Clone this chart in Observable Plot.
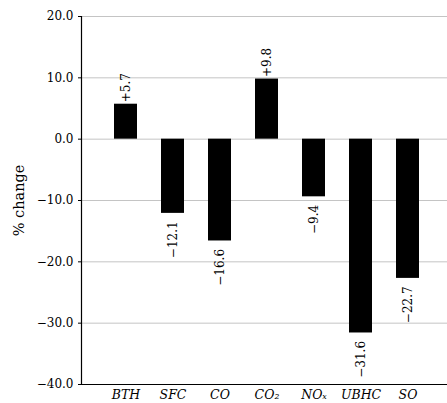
<!DOCTYPE html>
<html>
<head>
<meta charset="utf-8">
<script src="https://cdn.jsdelivr.net/npm/d3@7"></script>
<script src="https://cdn.jsdelivr.net/npm/@observablehq/plot@0.6"></script>
<style>
  html, body { margin: 0; padding: 0; background: #fff; }
  svg { display: block; }
</style>
</head>
<body>
<div id="chart"></div>
<script>
const categories = ["BTH", "SFC", "CO", "CO₂", "NOₓ", "UBHC", "SO"];
const values = [5.7, -12.1, -16.6, 9.8, -9.4, -31.6, -22.7];
const yTicks = [20, 10, 0, -10, -20, -30, -40];
const yLabel = "% change";

const data = categories.map((c, i) => ({cat: c, value: values[i]}));
const fmtTick = d => (d < 0 ? "\u2212" : "") + Math.abs(d).toFixed(1);
const fmtVal = d => (d < 0 ? "\u2212" : "+") + Math.abs(d).toFixed(1);
const font = "DejaVu Serif";

const chart = Plot.plot({
  width: 447,
  height: 403,
  marginLeft: 81,
  marginRight: 0,
  marginTop: 16,
  marginBottom: 19,
  style: {fontFamily: font, fontSize: "12px", background: "#fff", color: "#000"},
  x: {domain: categories, range: [81, 452], paddingInner: 0.517, paddingOuter: 0.657},
  y: {domain: [-40, 20]},
  marks: [
    Plot.ruleY(yTicks, {stroke: "#c4c4c4", strokeWidth: 1}),
    Plot.barY(data, {x: "cat", y: "value", fill: "#000"}),
    Plot.text(data.filter(d => d.value >= 0), {
      x: "cat", y: "value", text: d => fmtVal(d.value),
      rotate: -90, textAnchor: "start", dy: -2, fontSize: 12, fill: "#000"
    }),
    Plot.text(data.filter(d => d.value < 0), {
      x: "cat", y: "value", text: d => fmtVal(d.value),
      rotate: -90, textAnchor: "end", dy: 8, fontSize: 12, fill: "#000"
    }),
    Plot.axisY({
      ticks: yTicks, tickFormat: fmtTick, tickSize: 3, tickPadding: 5,
      fontSize: 12, label: null
    }),
    Plot.axisY({
      ticks: [], tickSize: 0, fontSize: 14.5, label: yLabel,
      labelAnchor: "center", labelArrow: "none", labelOffset: 68
    }),
    Plot.axisX({tickSize: 0, tickPadding: 6, fontStyle: "italic", fontSize: 12.5, label: null}),
    Plot.frame({anchor: "left", stroke: "#000", strokeWidth: 1.2}),
    Plot.frame({anchor: "bottom", stroke: "#000", strokeWidth: 1.2})
  ]
});
document.getElementById("chart").appendChild(chart);
</script>
</body>
</html>
